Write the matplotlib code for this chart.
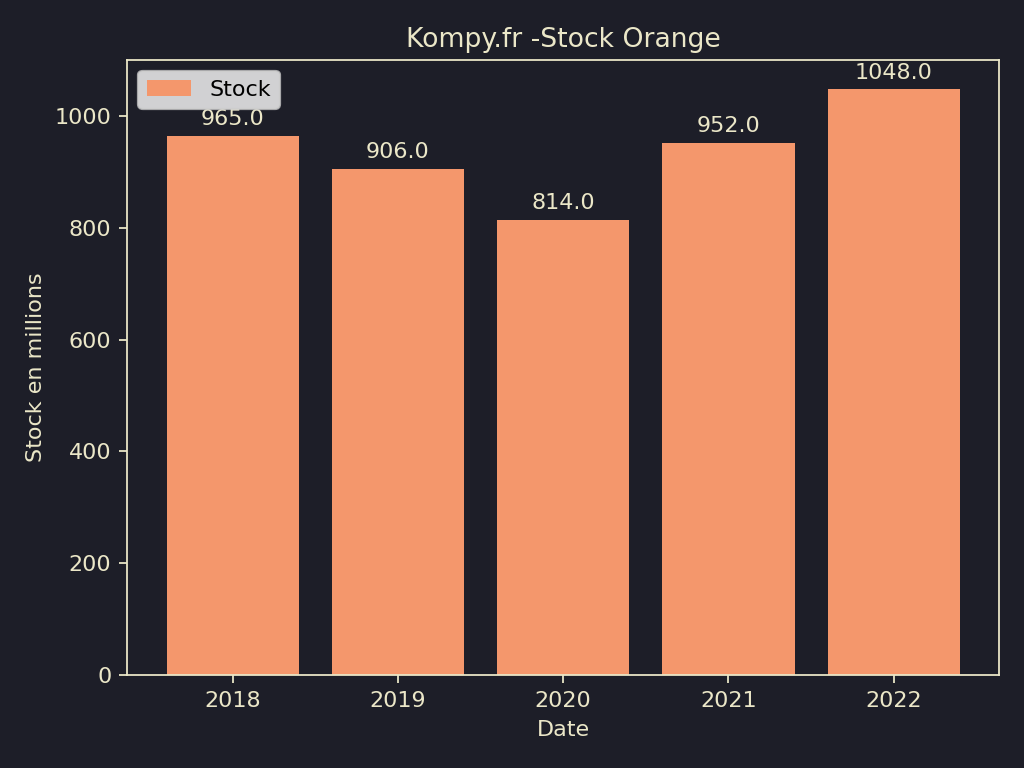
import matplotlib
matplotlib.use("Agg")
import matplotlib.pyplot as plt

# data
years = ["2018", "2019", "2020", "2021", "2022"]
stock = [965.0, 906.0, 814.0, 952.0, 1048.0]

bg = "#1d1e28"
fg = "#ebe7c8"
bar_color = "#f4976c"

plt.rcParams["text.color"] = fg
plt.rcParams["axes.labelcolor"] = fg
plt.rcParams["xtick.color"] = fg
plt.rcParams["ytick.color"] = fg
plt.rcParams["axes.edgecolor"] = fg

fig, ax = plt.subplots(figsize=(6.4, 4.8), dpi=160)
fig.patch.set_facecolor(bg)
ax.set_facecolor(bg)

bars = ax.bar(years, stock, color=bar_color, label="Stock")
ax.bar_label(bars, labels=[f"{v:.1f}" for v in stock], padding=3, color=fg)

ax.set_title("Kompy.fr -Stock Orange", color=fg)
ax.set_xlabel("Date")
ax.set_ylabel("Stock en millions")
leg = ax.legend(loc="upper left")
for t in leg.get_texts():
    t.set_color("black")

fig.subplots_adjust(left=0.124, right=0.976, top=0.922, bottom=0.121)
fig.savefig("out.png", facecolor=bg)
